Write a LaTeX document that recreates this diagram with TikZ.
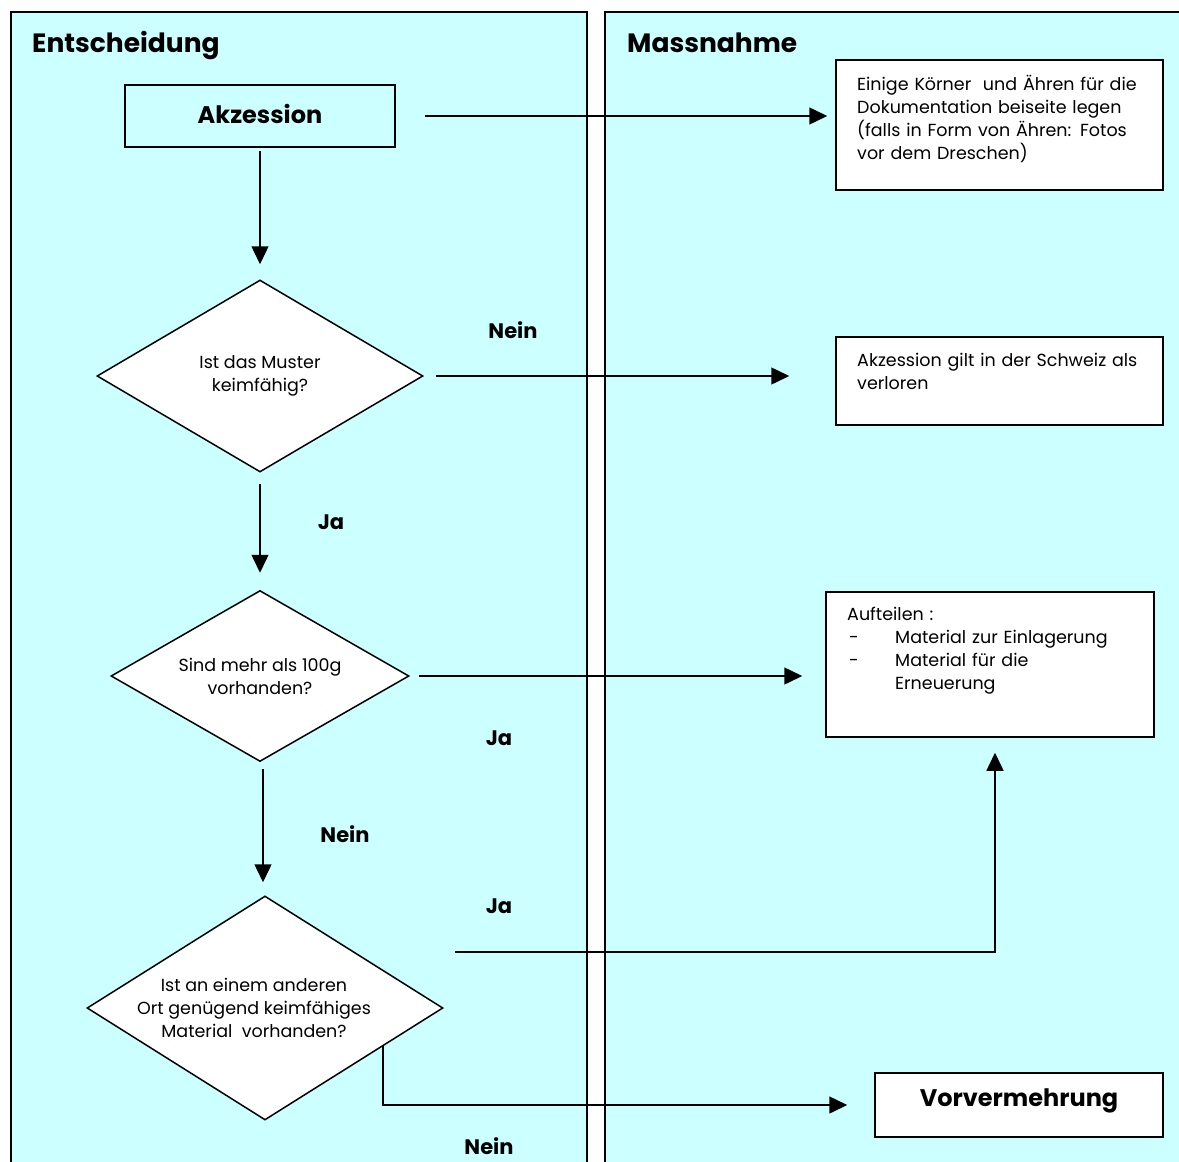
\documentclass[tikz,border=0pt]{standalone}
\usepackage{fontspec}
\setmainfont{Poppins}
\usetikzlibrary{shapes.geometric,arrows.meta}
\definecolor{lane}{HTML}{CCFFFF}
\begin{document}
\begin{tikzpicture}[x=1pt,y=-1pt,
  lanebd/.style={line width=2pt},
  box/.style={draw, line width=1.5pt, rectangle, inner sep=0pt},
  dia/.style={draw, line width=1.5pt, diamond, fill=white, inner sep=0pt, align=center,
    font=\fontsize{17.5}{23}\selectfont},
  body/.style={anchor=base west, inner sep=0pt, text width=310pt, align=left,
    font=\fontsize{17.5}{23}\selectfont},
  lab/.style={inner sep=0pt, font=\fontsize{21}{24}\selectfont\bfseries},
  title/.style={anchor=base west, inner sep=0pt, font=\fontsize{26.5}{32}\selectfont\bfseries},
  big/.style={inner sep=0pt, font=\fontsize{24}{28}\selectfont\bfseries},
  arr/.style={line width=1.5pt, -{Triangle[length=18pt,width=17pt]}},
  ln/.style={line width=1.5pt}]
\useasboundingbox (0,0) rectangle (1179,1162);
\clip (0,0) rectangle (1179,1162);
\fill[white] (0,0) rectangle (1179,1162);
% lanes
\fill[lane] (11,12) rectangle (587,1175);
\draw[lanebd] (11,1175) -- (11,12) -- (587,12) -- (587,1175);
\fill[lane] (605,12) rectangle (1190,1175);
\draw[lanebd] (605,1175) -- (605,12) -- (1190,12);
\node[title] (tleft) at (32,52) {Entscheidung};
\node[title] (tright) at (627,52) {Massnahme};
% nodes
\node[box, fill=lane, minimum width=270pt, minimum height=62pt] (akz) at (260,116) {};
\node[big] (akzt) at (260,114) {Akzession};
\node[dia, aspect=1.70, minimum width=326pt, minimum height=192pt] (d1) at (260,376) {Ist das Muster\\keimfähig?};
\node[dia, aspect=1.74, minimum width=298pt, minimum height=171pt] (d2) at (260,676) {Sind mehr als 100g\\vorhanden?};
\node[dia, aspect=1.59, minimum width=356pt, minimum height=224pt] (d3) at (265,1008) {\hspace*{-22pt}Ist an einem anderen\\\hspace*{-22pt}Ort genügend keimfähiges\\\hspace*{-22pt}Material\ \ vorhanden?};
\node[box, fill=white, minimum width=327pt, minimum height=130pt] (b1) at (999.5,125) {};
\node[body] (b1t) at (857,90) {Einige Körner\ \ und Ähren für die\\Dokumentation beiseite legen\\(falls in Form von Ähren: Fotos\\vor dem Dreschen)};
\node[box, fill=white, minimum width=327pt, minimum height=88pt] (b2) at (999.5,381) {};
\node[body] (b2t) at (857,366) {Akzession gilt in der Schweiz als\\verloren};
\node[box, fill=white, minimum width=328pt, minimum height=145pt] (b3) at (990,664.5) {};
\node[body] (b3t) at (847,620) {Aufteilen :\\\makebox[48pt][l]{\hspace{2pt}-}Material zur Einlagerung\\\makebox[48pt][l]{\hspace{2pt}-}Material für die\\\hspace*{48pt}Erneuerung};
\node[box, fill=white, minimum width=288pt, minimum height=64pt] (vv) at (1019,1105) {};
\node[big] (vvt) at (1019,1101) {Vorvermehrung};
% labels
\node[lab] (l1) at (513,330) {Nein};
\node[lab] (l2) at (331,522) {Ja};
\node[lab] (l3) at (499,738) {Ja};
\node[lab] (l4) at (345,834) {Nein};
\node[lab] (l5) at (499,906) {Ja};
\node[lab] (l6) at (489,1146) {Nein};
% connectors
\draw[arr, shorten <=29pt, shorten >=8pt] (akz.east) -- (akz.east -| b1.west);
\draw[arr, shorten <=3pt, shorten >=15pt] (akz.south) -- (d1.north);
\draw[arr, shorten <=12pt, shorten >=46pt] (d1.east) -- (d1.east -| b2.west);
\draw[arr, shorten <=11pt, shorten >=17pt] (d1.south) -- (d2.north);
\draw[arr, shorten <=9pt, shorten >=23pt] (d2.east) -- (d2.east -| b3.west);
\draw[arr, shorten <=7pt, shorten >=13pt] ([xshift=3pt]d2.south) -- ([xshift=3pt]d2.south |- d3.north);
\coordinate (ja3) at (455,952);
\draw[arr, shorten >=15pt] (ja3) -| ([xshift=5pt]b3.south);
\coordinate (n3) at (383,1046);
\draw[arr, shorten >=27pt] (n3) |- (vv.west);
\end{tikzpicture}
\end{document}
